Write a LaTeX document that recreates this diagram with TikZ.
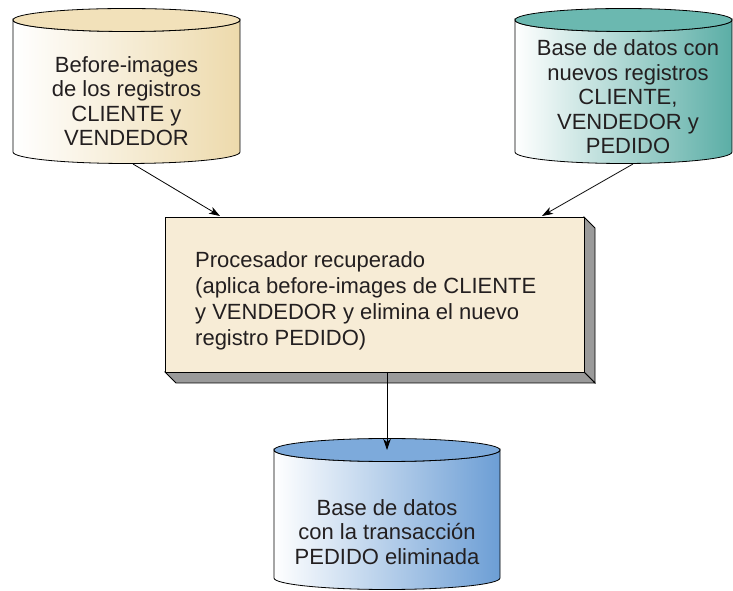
\documentclass[tikz,border=0pt]{standalone}
\usepackage{fontspec}
\setmainfont{Liberation Sans}
\usetikzlibrary{arrows.meta}
\definecolor{tanR}{HTML}{EDDAAC}
\definecolor{tanT}{HTML}{F2E1BA}
\definecolor{tealR}{HTML}{5BAEA6}
\definecolor{tealT}{HTML}{6BB8B0}
\definecolor{blueR}{HTML}{6C9ED5}
\definecolor{blueT}{HTML}{7DAADB}
\definecolor{boxfill}{HTML}{F7ECD6}
\definecolor{shadow}{HTML}{9A9A9A}
\definecolor{txt}{HTML}{231F20}
\tikzset{
  outline/.style={draw=black, line width=0.8pt},
  label/.style={text=txt, font=\fontsize{22}{24.5}\selectfont, align=center, inner sep=0pt},
  conn/.style={draw=black, line width=0.8pt, -{Stealth[length=11pt,width=7.5pt,inset=3pt]}},
}
\begin{document}
\begin{tikzpicture}[x=1pt,y=1pt]
\useasboundingbox (0,0) rectangle (733,591);
% left cylinder
\path[outline, left color=white, right color=tanR]
  (13,571) -- (13,439) arc[start angle=180,end angle=360,x radius=113.5,y radius=11.5]
  -- (240,571) arc[start angle=0,end angle=-180,x radius=113.5,y radius=11.5] -- cycle;
\path[outline, fill=tanT] (126.5,571) ellipse[x radius=113.5,y radius=11.5];
\node[label] (cl) at (126.5,490) {Before-images\\de los registros\\CLIENTE y\\VENDEDOR};
% right cylinder
\path[outline, left color=white, right color=tealR]
  (515,571) -- (515,439) arc[start angle=180,end angle=360,x radius=108.5,y radius=11.5]
  -- (732,571) arc[start angle=0,end angle=-180,x radius=108.5,y radius=11.5] -- cycle;
\path[outline, fill=tealT] (623.5,571) ellipse[x radius=108.5,y radius=11.5];
\node[label] (cr) at (628,494) {Base de datos con\\nuevos registros\\CLIENTE,\\VENDEDOR y\\PEDIDO};
% bottom cylinder
\path[outline, left color=white, right color=blueR]
  (274,141) -- (274,13) arc[start angle=180,end angle=360,x radius=113,y radius=11.5]
  -- (500,141) arc[start angle=0,end angle=-180,x radius=113,y radius=11.5] -- cycle;
\path[outline, fill=blueT] (387,141) ellipse[x radius=113,y radius=11.5];
\node[label] (cb) at (387,59) {Base de datos\\con la transacción\\PEDIDO eliminada};
% process box with 3D shadow
\path[outline, fill=shadow] (584,374) -- (595,363) -- (595,208) -- (584,219) -- cycle;
\path[outline, fill=shadow] (165,219) -- (176,208) -- (595,208) -- (584,219) -- cycle;
\path[outline, fill=boxfill] (165,219) rectangle (584,374);
\node[label, align=left, anchor=west, font=\fontsize{22}{26}\selectfont] (proc) at (195,290)
  {Procesador recuperado\\(aplica before-images de CLIENTE\\y VENDEDOR y elimina el nuevo\\registro PEDIDO)};
% connectors
\coordinate (clb) at (133,427);
\coordinate (crb) at (633,427);
\coordinate (pl) at (220,375);
\coordinate (pr) at (542,375);
\coordinate (pb) at (387,219);
\coordinate (cbt) at (387,141);
\draw[conn] (clb) -- (pl);
\draw[conn] (crb) -- (pr);
\draw[conn] (pb) -- (cbt);
\end{tikzpicture}
\end{document}
